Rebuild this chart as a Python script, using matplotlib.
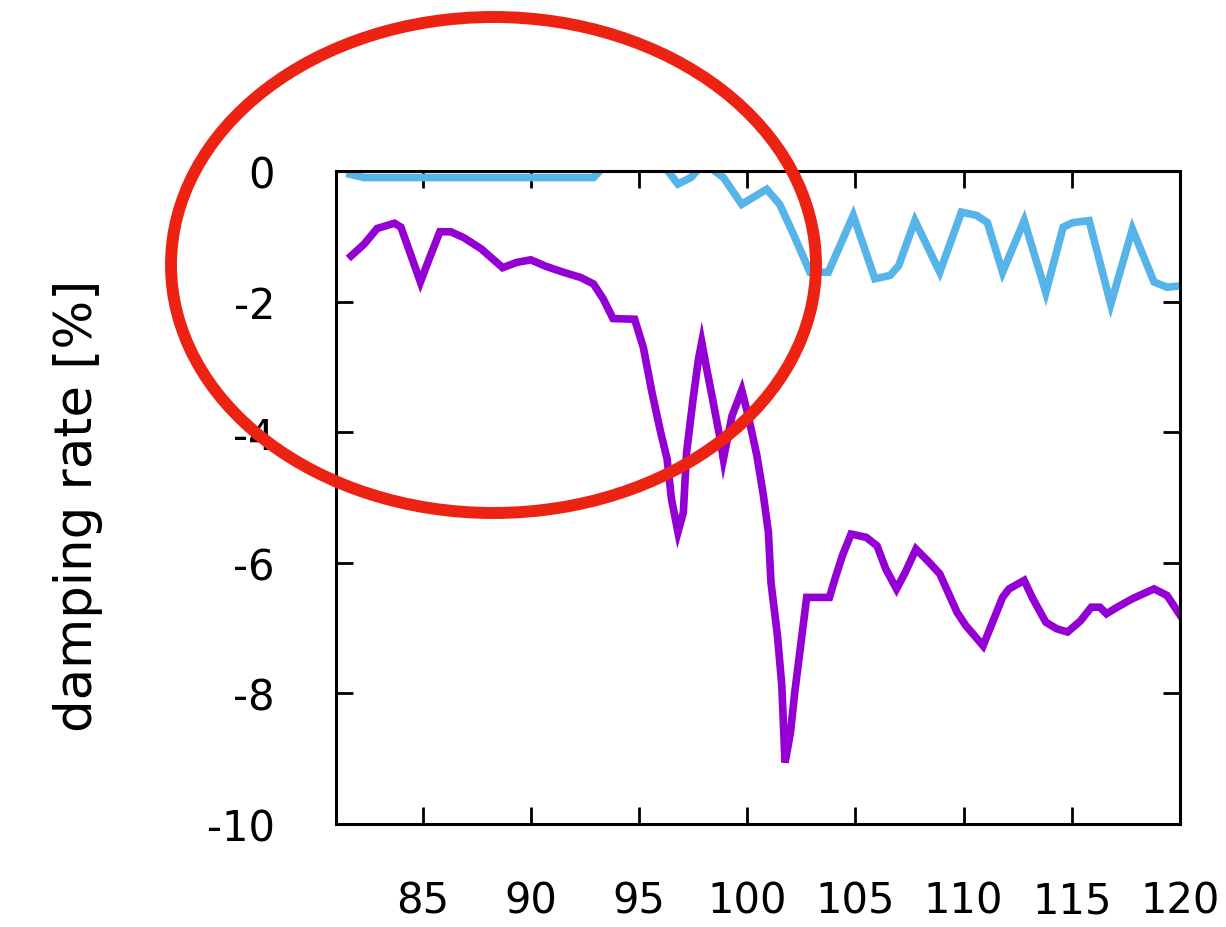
import matplotlib
matplotlib.use("Agg")
import matplotlib.pyplot as plt
from matplotlib.patches import Ellipse

# Data
purple_x = [81.7, 82.3, 82.9, 83.7, 84.0, 84.9, 85.3, 85.8, 86.3, 86.9, 87.7, 88.7, 89.35, 90.0,
            90.7, 91.5, 92.3, 92.9, 93.35, 93.8, 94.8, 95.2, 95.6, 96.0, 96.3, 96.5, 96.8, 97.05,
            97.2, 97.5, 97.75, 97.9, 98.1, 98.4, 98.75, 98.9, 99.3, 99.75, 100.05, 100.45, 100.75,
            100.98, 101.1, 101.4, 101.6, 101.75, 102.0, 102.2, 102.45, 102.75, 103.8, 104.1, 104.4,
            104.8, 105.5, 106.0, 106.4, 106.9, 107.3, 107.8, 108.4, 108.9, 109.7, 110.1, 110.9,
            111.4, 111.8, 112.1, 112.8, 113.2, 113.8, 114.3, 114.8, 115.4, 115.9, 116.3, 116.6,
            117.1, 117.8, 118.8, 119.4, 120.0]
purple_y = [-1.30, -1.12, -0.88, -0.80, -0.86, -1.70, -1.35, -0.93, -0.93, -1.02, -1.19, -1.48, -1.40,
            -1.36, -1.46, -1.55, -1.63, -1.73, -1.96, -2.26, -2.27, -2.70, -3.39, -4.00, -4.41, -5.02,
            -5.53, -5.23, -4.31, -3.49, -2.88, -2.62, -2.98, -3.49, -4.10, -4.41, -3.75, -3.36, -3.75,
            -4.36, -4.97, -5.53, -6.30, -7.12, -7.88, -9.06, -8.60, -7.98, -7.32, -6.53, -6.53, -6.20,
            -5.89, -5.56, -5.61, -5.74, -6.09, -6.40, -6.15, -5.79, -5.99, -6.17, -6.76, -6.96, -7.27,
            -6.86, -6.53, -6.40, -6.27, -6.55, -6.91, -7.01, -7.06, -6.89, -6.68, -6.68, -6.78, -6.68,
            -6.55, -6.40, -6.50, -6.80]

blue_x = [81.65, 82.3, 92.9, 93.35, 94.0, 95.5, 96.2, 96.8, 97.4, 97.8, 98.3, 98.9, 99.75, 100.3,
          100.9, 101.5, 102.1, 102.9, 103.75, 104.9, 105.9, 106.6, 107.0, 107.75, 108.9, 109.9,
          110.6, 111.1, 111.8, 112.8, 113.8, 114.6, 115.05, 115.8, 116.8, 117.8, 118.8, 119.4, 120.0]
blue_y = [-0.05, -0.10, -0.10, 0.06, 0.30, 0.30, 0.06, -0.20, -0.10, 0.05, 0.05, -0.10, -0.51, -0.40,
          -0.28, -0.51, -0.94, -1.55, -1.55, -0.68, -1.65, -1.60, -1.45, -0.76, -1.55, -0.63,
          -0.68, -0.79, -1.55, -0.76, -1.86, -0.86, -0.79, -0.76, -2.04, -0.89, -1.70, -1.78, -1.76]

x_ticks = [85, 90, 95, 100, 105, 110, 115, 120]
y_ticks = [0, -2, -4, -6, -8, -10]
y_label = "damping rate [%]"

plt.rcParams['font.family'] = ['DejaVu Sans']

fig = plt.figure(figsize=(12.26, 9.28), dpi=100)
ax = fig.add_axes([336/1226, 1 - 825/928, (1180-336)/1226, (825-172)/928])

ax.plot(purple_x, purple_y, color='#9400D3', lw=5.5, solid_joinstyle='miter')
ax.plot(blue_x, blue_y, color='#56B4E9', lw=5.5, solid_joinstyle='miter')

ax.set_xlim(81, 120)
ax.set_ylim(-10, 0)
ax.set_xticks(x_ticks)
ax.set_yticks(y_ticks)
ax.set_yticklabels([str(v) for v in y_ticks])
ax.tick_params(direction='in', length=12, width=2, top=True, right=True,
               labelsize=30, colors='black')
ax.tick_params(axis='x', pad=40)
ax.tick_params(axis='y', pad=44)
for s in ax.spines.values():
    s.set_linewidth(2.2)

fig.text(78/1226, 1 - 506/928, y_label, rotation=90, ha='center', va='center', fontsize=37)

ell = Ellipse((493.5/1226, 1 - 266/928), width=645/1226, height=496/928,
              transform=fig.transFigure, fill=False, edgecolor='#EC2312', lw=8.6, zorder=10)
fig.add_artist(ell)

fig.savefig("out.png", dpi=100)
